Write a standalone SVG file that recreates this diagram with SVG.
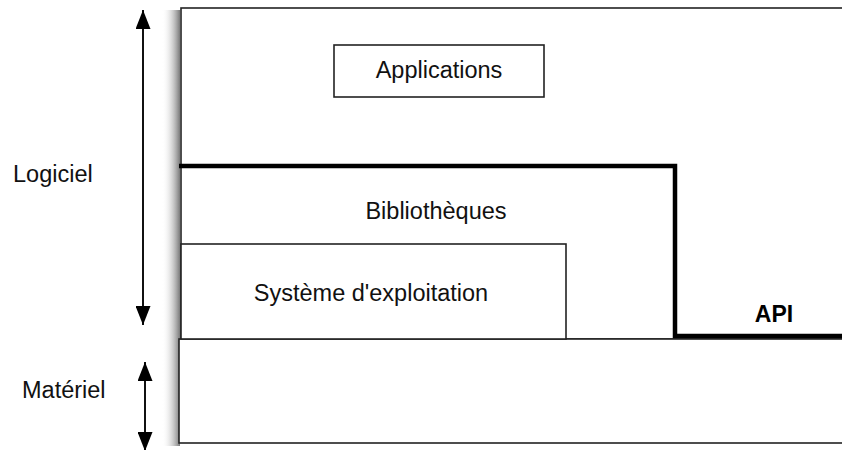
<svg xmlns="http://www.w3.org/2000/svg" width="842" height="450" viewBox="0 0 842 450">
  <defs>
    <linearGradient id="shadow" x1="0" y1="0" x2="1" y2="0">
      <stop offset="0" stop-color="#ffffff" stop-opacity="0"/>
      <stop offset="1" stop-color="#6a6a6a" stop-opacity="0.9"/>
    </linearGradient>
    <marker id="ah" viewBox="0 0 19 15" refX="19" refY="7.5" markerWidth="19" markerHeight="15" markerUnits="userSpaceOnUse" orient="auto">
      <path d="M0,0 L19,7.5 L0,15 Z" fill="#000"/>
    </marker>
    <style>
      .box { fill: #fff; stroke: #222; stroke-width: 1.6; }
      .lbl { font-family: "Liberation Sans", Arial, sans-serif; font-size: 23.5px; fill: #111; }
      .api { font-family: "Liberation Sans", Arial, sans-serif; font-size: 23px; font-weight: bold; fill: #000; }
      .arr { stroke: #111; stroke-width: 2; fill: none; }
      .thick { stroke: #000; stroke-width: 4.5; fill: none; stroke-linejoin: miter; }
    </style>
  </defs>
  <rect x="0" y="0" width="842" height="450" fill="#fff"/>

  <!-- shadow -->
  <rect x="162" y="10" width="18" height="436" fill="url(#shadow)"/>

  <g id="logiciel">
    <rect class="box" x="181" y="8" width="680" height="331"/>
  </g>
  <g id="materiel">
    <rect class="box" x="179" y="339" width="680" height="104"/>
  </g>
  <g id="applications">
    <rect class="box" x="334" y="45" width="210" height="52"/>
    <text class="lbl" x="439" y="78" text-anchor="middle">Applications</text>
  </g>
  <g id="bibliotheques">
    <text class="lbl" x="436" y="219" text-anchor="middle">Bibliothèques</text>
  </g>
  <g id="systeme">
    <rect class="box" x="181" y="244" width="385" height="95"/>
    <text class="lbl" x="371" y="301" text-anchor="middle">Système d'exploitation</text>
  </g>
  <g id="api">
    <text class="api" x="774" y="322" text-anchor="middle">API</text>
  </g>
  <g id="labels">
    <text class="lbl" x="13" y="182">Logiciel</text>
    <text class="lbl" x="22" y="398">Matériel</text>
  </g>

  <g id="connectors">
    <path class="thick" d="M179,166 H675 V336 H850"/>
    <line class="arr" x1="143" y1="168" x2="143" y2="10" marker-end="url(#ah)"/>
    <line class="arr" x1="143" y1="168" x2="143" y2="325" marker-end="url(#ah)"/>
    <line class="arr" x1="145" y1="405" x2="145" y2="362" marker-end="url(#ah)"/>
    <line class="arr" x1="145" y1="405" x2="145" y2="451" marker-end="url(#ah)"/>
  </g>
</svg>
